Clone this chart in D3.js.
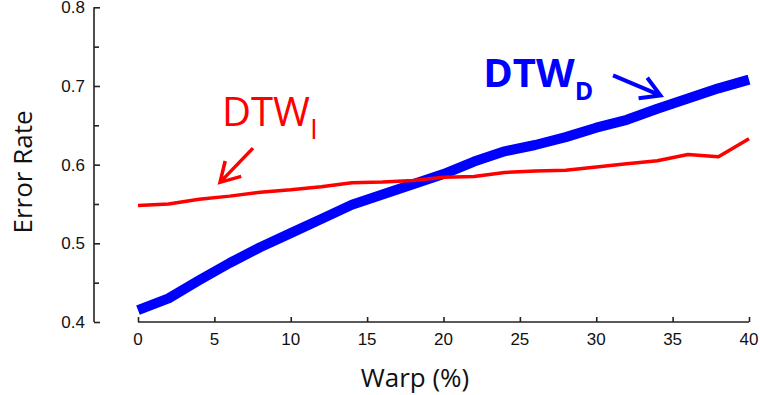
<!DOCTYPE html>
<html>
<head>
<meta charset="utf-8">
<script src="https://cdn.jsdelivr.net/npm/d3@7.9.0/dist/d3.min.js"></script>
<style>
  body { margin: 0; background: #fff; }
  svg { display: block; }
</style>
</head>
<body>
<div id="chart"></div>
<script>
// warp window (%) and error rates
const warp = [0, 2, 4, 6, 8, 10, 12, 14, 16, 18, 20, 22, 24, 26, 28, 30, 32, 34, 36, 38, 40];
const dtwD = [0.415, 0.430, 0.453, 0.475, 0.495, 0.513, 0.531, 0.549, 0.562, 0.575, 0.588,
              0.604, 0.617, 0.625, 0.635, 0.647, 0.657, 0.671, 0.684, 0.697, 0.708];
const dtwI = [0.548, 0.550, 0.556, 0.560, 0.565, 0.568, 0.572, 0.577, 0.578, 0.580, 0.584,
              0.585, 0.590, 0.592, 0.593, 0.597, 0.601, 0.605, 0.613, 0.610, 0.633];

const xTicks = [0, 5, 10, 15, 20, 25, 30, 35, 40];
const yTicks = [0.4, 0.5, 0.6, 0.7, 0.8];
const yMinorTicks = [0.45, 0.55, 0.65, 0.75];

const width = 760;
const height = 395;

const svg = d3.select("#chart")
  .append("svg")
  .attr("width", width)
  .attr("height", height);

const xScale = d3.scaleLinear().domain([0, 40]).range([138, 749]);
const yScale = d3.scaleLinear().domain([0.4, 0.8]).range([322, 7.3]);

const axisColor = "#222";
const tickFont = "Arial, 'Liberation Sans', sans-serif";
const titleFont = "'Open Sans', 'Noto Sans', sans-serif";

// y axis, ticks point into the plot
const yAxis = svg.append("g")
  .attr("transform", `translate(94, 0)`)
  .call(d3.axisRight(yScale).tickValues(yTicks).tickSize(6).tickFormat(""));
yAxis.select(".domain").attr("d", `M0,${yScale(0.8)}V${yScale(0.4)}`);
svg.append("g")
  .attr("transform", `translate(94, 0)`)
  .call(d3.axisRight(yScale).tickValues(yMinorTicks).tickSize(5).tickFormat(""))
  .select(".domain").remove();

svg.selectAll(".y-label")
  .data(yTicks)
  .join("text")
  .attr("class", "y-label")
  .attr("x", 85)
  .attr("y", (d) => yScale(d))
  .attr("dy", "0.36em")
  .attr("text-anchor", "end")
  .style("font-family", tickFont)
  .style("font-size", "17px")
  .style("fill", "#111")
  .text((d) => d.toFixed(1));

// x axis, ticks point up
const xAxis = svg.append("g")
  .attr("transform", `translate(0, 322)`)
  .call(d3.axisTop(xScale).tickValues(xTicks).tickSize(5).tickFormat(""));
xAxis.select(".domain").attr("d", `M${xScale(0)},0H${xScale(40)}`);

svg.selectAll(".x-label")
  .data(xTicks)
  .join("text")
  .attr("class", "x-label")
  .attr("x", (d) => xScale(d))
  .attr("y", 345)
  .attr("text-anchor", "middle")
  .style("font-family", tickFont)
  .style("font-size", "17px")
  .style("fill", "#111")
  .text((d) => d);

svg.selectAll(".domain, .tick line")
  .attr("stroke", axisColor)
  .attr("stroke-width", 1.6);

// axis titles
svg.append("text")
  .attr("transform", "translate(32, 172) rotate(-90)")
  .attr("text-anchor", "middle")
  .style("font-family", titleFont)
  .style("font-size", "26px")
  .style("fill", "#111")
  .text("Error Rate");

svg.append("text")
  .attr("x", 415)
  .attr("y", 387)
  .attr("text-anchor", "middle")
  .style("font-family", titleFont)
  .style("font-size", "26px")
  .style("fill", "#111")
  .text("Warp (%)");

// series
const line = d3.line()
  .x((d, i) => xScale(warp[i]))
  .y((d) => yScale(d));

svg.append("path")
  .datum(dtwD)
  .attr("d", line)
  .attr("fill", "none")
  .attr("stroke", "#0000ff")
  .attr("stroke-width", 10)
  .attr("stroke-linejoin", "round");

svg.append("path")
  .datum(dtwI)
  .attr("d", line)
  .attr("fill", "none")
  .attr("stroke", "#ff0000")
  .attr("stroke-width", 3.5)
  .attr("stroke-linejoin", "round");

// annotations
function drawArrow(from, to, color, w) {
  const x1 = xScale(from[0]), y1 = yScale(from[1]);
  const x2 = xScale(to[0]), y2 = yScale(to[1]);
  const ang = Math.atan2(y1 - y2, x1 - x2);
  const len = 22, spread = 0.53;
  const a1 = [x2 + len * Math.cos(ang - spread), y2 + len * Math.sin(ang - spread)];
  const a2 = [x2 + len * Math.cos(ang + spread), y2 + len * Math.sin(ang + spread)];
  svg.append("path")
    .attr("d", `M${x1},${y1}L${x2},${y2}M${a1[0]},${a1[1]}L${x2},${y2}L${a2[0]},${a2[1]}`)
    .attr("fill", "none")
    .attr("stroke", color)
    .attr("stroke-width", w)
    .attr("stroke-linecap", "butt")
    .attr("stroke-linejoin", "miter");
}

const redLabel = svg.append("text")
  .attr("x", xScale(5.5))
  .attr("y", yScale(0.6495))
  .style("font-family", titleFont)
  .style("font-size", "40px")
  .style("fill", "#ff0000");
redLabel.append("tspan").text("DTW");
redLabel.append("tspan").attr("dy", 13).style("font-size", "28px").text("I");

const blueLabel = svg.append("text")
  .attr("x", xScale(22.6))
  .attr("y", yScale(0.699))
  .style("font-family", titleFont)
  .style("font-size", "40px")
  .style("font-weight", "bold")
  .style("fill", "#0000ff");
blueLabel.append("tspan").text("DTW");
blueLabel.append("tspan").attr("dy", 13).style("font-size", "25px").text("D");

drawArrow([7.53, 0.621], [5.37, 0.5775], "#ff0000", 3.5);
drawArrow([31.1, 0.7135], [34.2, 0.688], "#0000ff", 4);
</script>
</body>
</html>
